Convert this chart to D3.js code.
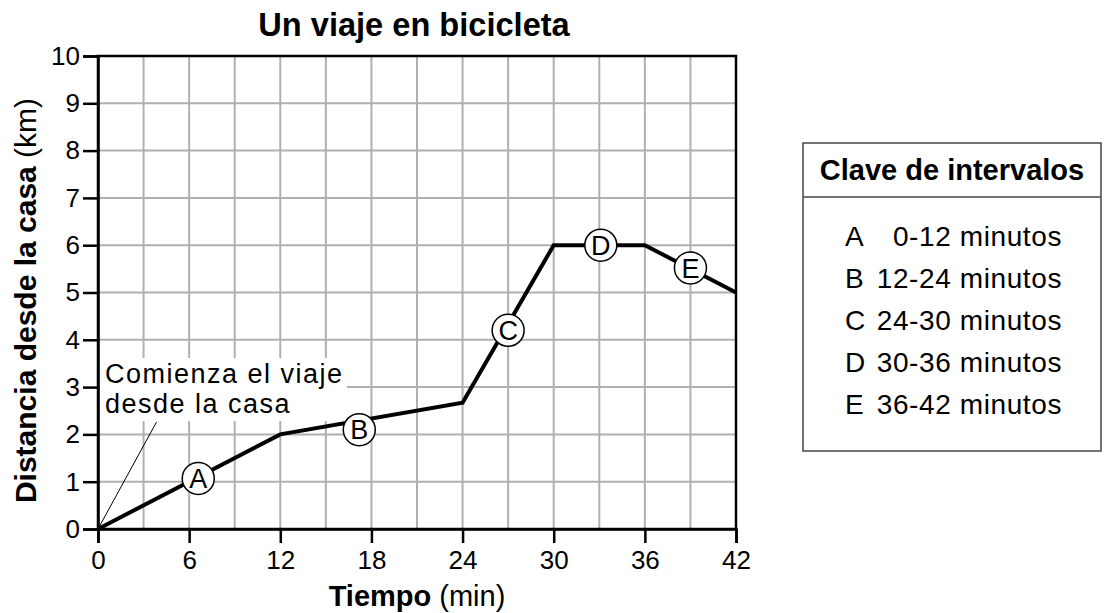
<!DOCTYPE html>
<html>
<head>
<meta charset="utf-8">
<script src="https://cdn.jsdelivr.net/npm/d3@7"></script>
<style>
  html, body { margin: 0; padding: 0; background: #fff; }
  svg { display: block; font-family: "Liberation Sans", Arial, Helvetica, sans-serif; }
</style>
</head>
<body>
<svg id="chart" width="1104" height="613"></svg>
<script>
// Trip profile: time (min) vs distance from home (km)
const times = [0, 12, 24, 30, 36, 42];
const distances = [0, 2, 2.67, 6, 6, 5];

// Interval markers placed along the path
const markerLetters = ["A", "B", "C", "D", "E"];
const markerTimes = [6.6, 17.2, 27.0, 33.1, 39.0];
const markerDistances = [1.07, 2.1, 4.2, 6.0, 5.52];

// Interval key rows
const keyLetters = ["A", "B", "C", "D", "E"];
const keyRanges = ["0-12 minutos", "12-24 minutos", "24-30 minutos", "30-36 minutos", "36-42 minutos"];

// Axis ticks
const xTicks = [0, 6, 12, 18, 24, 30, 36, 42];
const yTicks = [0, 1, 2, 3, 4, 5, 6, 7, 8, 9, 10];
const xGrid = d3.range(0, 43, 3);

const svg = d3.select("#chart");
const x = d3.scaleLinear().domain([0, 42]).range([98, 736]);
const y = d3.scaleLinear().domain([0, 10]).range([529, 56]);

const gridColor = "#b0b0b0";

// Grid
const grid = svg.append("g");
grid.selectAll("line.v").data(xGrid).join("line")
  .attr("x1", d => x(d)).attr("x2", d => x(d))
  .attr("y1", y(0)).attr("y2", y(10))
  .attr("stroke", gridColor).attr("stroke-width", 2);
grid.selectAll("line.h").data(yTicks).join("line")
  .attr("x1", x(0)).attr("x2", x(42))
  .attr("y1", d => y(d)).attr("y2", d => y(d))
  .attr("stroke", gridColor).attr("stroke-width", 2);

// Annotation text with a white backing
const note = svg.append("g");
note.append("rect")
  .attr("x", x(0) + 2).attr("y", 358)
  .attr("width", 247).attr("height", 63)
  .attr("fill", "#fff");

// Frame
svg.append("rect")
  .attr("x", x(0)).attr("y", y(10))
  .attr("width", x(42) - x(0)).attr("height", y(0) - y(10))
  .attr("fill", "none").attr("stroke", "#000").attr("stroke-width", 2.5);

// Axes
const xAxis = svg.append("g")
  .attr("transform", `translate(0,${y(0)})`)
  .call(d3.axisBottom(x).tickValues(xTicks).tickSize(14).tickPadding(8));
const yAxis = svg.append("g")
  .attr("transform", `translate(${x(0)},0)`)
  .call(d3.axisLeft(y).tickValues(yTicks).tickSize(15).tickPadding(3));
[xAxis, yAxis].forEach(g => {
  g.select(".domain").attr("stroke", "#000").attr("stroke-width", 2.5);
  g.selectAll(".tick line").attr("stroke", "#000").attr("stroke-width", 2.5);
  g.selectAll(".tick text")
    .attr("font-family", "Liberation Sans, Arial, sans-serif")
    .attr("font-size", 26).attr("fill", "#000");
});

// Pointer from the annotation to the origin
svg.append("line")
  .attr("x1", x(0)).attr("y1", y(0))
  .attr("x2", 156.5).attr("y2", 422)
  .attr("stroke", "#000").attr("stroke-width", 1);

note.append("text")
  .attr("x", 105).attr("y", 383)
  .attr("font-size", 27).attr("letter-spacing", 1.5)
  .text("Comienza el viaje");
note.append("text")
  .attr("x", 105).attr("y", 413)
  .attr("font-size", 27).attr("letter-spacing", 1.5)
  .text("desde la casa");
note.raise();

// Trip line
const line = d3.line().x((d, i) => x(times[i])).y(d => y(d));
svg.append("path")
  .datum(distances)
  .attr("d", line)
  .attr("fill", "none").attr("stroke", "#000")
  .attr("stroke-width", 4).attr("stroke-linejoin", "miter");

// Interval markers
const markers = svg.append("g").selectAll("g").data(markerLetters).join("g")
  .attr("transform", (d, i) => `translate(${x(markerTimes[i])},${y(markerDistances[i])})`);
markers.append("circle").attr("r", 16)
  .attr("fill", "#fff").attr("stroke", "#000").attr("stroke-width", 1.5);
markers.append("text")
  .attr("text-anchor", "middle").attr("dy", "0.36em")
  .attr("font-size", 27)
  .text(d => d);

// Title
svg.append("text")
  .attr("x", 414).attr("y", 36)
  .attr("text-anchor", "middle")
  .attr("font-size", 32.6).attr("font-weight", "bold")
  .text("Un viaje en bicicleta");

// X axis title
const xt = svg.append("text")
  .attr("x", (x(0) + x(42)) / 2).attr("y", 606)
  .attr("text-anchor", "middle")
  .attr("font-size", 29);
xt.append("tspan").attr("font-weight", "bold").text("Tiempo");
xt.append("tspan").text(" (min)");

// Y axis title
const yt = svg.append("text")
  .attr("transform", `translate(36,${(y(0) + y(10)) / 2 + 8}) rotate(-90)`)
  .attr("text-anchor", "middle")
  .attr("font-size", 30);
yt.append("tspan").attr("font-weight", "bold").text("Distancia desde la casa");
yt.append("tspan").text(" (km)");

// Interval key
const key = svg.append("g");
key.append("rect")
  .attr("x", 803).attr("y", 143).attr("width", 298).attr("height", 308)
  .attr("fill", "#fff").attr("stroke", "#444").attr("stroke-width", 1.5);
key.append("line")
  .attr("x1", 803).attr("x2", 1101).attr("y1", 197).attr("y2", 197)
  .attr("stroke", "#444").attr("stroke-width", 1.5);
key.append("text")
  .attr("x", 952).attr("y", 180)
  .attr("text-anchor", "middle")
  .attr("font-size", 29).attr("font-weight", "bold")
  .text("Clave de intervalos");
const rows = key.selectAll("g.row").data(keyLetters).join("g")
  .attr("transform", (d, i) => `translate(0,${246 + i * 42})`);
rows.append("text").attr("x", 845).attr("font-size", 28).text(d => d);
rows.append("text").attr("x", 1062).attr("text-anchor", "end")
  .attr("font-size", 28).attr("letter-spacing", 0.6)
  .text((d, i) => keyRanges[i]);
</script>
</body>
</html>
